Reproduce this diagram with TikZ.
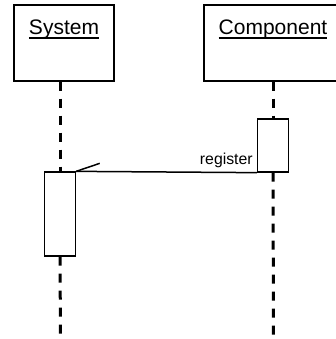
\documentclass[tikz,border=0pt]{standalone}
\usepackage{fontspec}
\setmainfont{Liberation Sans}
\begin{document}
\begin{tikzpicture}[x=1pt,y=-1pt,
  objbox/.style={draw,line width=1.3pt,minimum width=100pt,minimum height=76pt,inner sep=0pt},
  actbox/.style={draw,line width=1.3pt,fill=white,minimum width=31pt,inner sep=0pt},
  lifeline/.style={line width=3pt,dash pattern=on 9pt off 8pt},
  title/.style={font=\fontsize{21}{24}\selectfont,inner sep=0pt,anchor=base},
  msg/.style={line width=1.5pt}]
\useasboundingbox (0,0) rectangle (336,339);
\begin{scope}
\clip (0,0) rectangle (336,339);
% object boxes
\node[objbox] (sys) at (64,43) {};
\node[objbox,minimum width=138pt] (comp) at (273,43) {};
\node[title] (syst) at (64,35) {System};
\node[title] (compt) at (273,35) {Component};
\draw[line width=1.1pt] ([yshift=-3pt]syst.base west) -- ([yshift=-3pt]syst.base east);
\draw[line width=1.1pt] ([yshift=-3pt]compt.base west) -- ([yshift=-3pt]compt.base east);
% activations
\node[actbox,minimum height=84pt] (sa) at (60,214) {};
\node[actbox,minimum height=53pt] (ca) at (273,145.5) {};
% lifelines
\coordinate (sysend) at (60.5,339);
\coordinate (compend) at (273.5,339);
\draw[lifeline] (sys.south -| sa.north) -- (sa.north);
\draw[lifeline] (sa.south) -- (sysend);
\draw[lifeline] (comp.south -| ca.north) -- (ca.north);
\draw[lifeline] (ca.south) -- (compend);
% message
\draw[msg] (ca.south west) -- (sa.north east);
\draw[msg] (sa.north east) -- ++(23.6,-8);
\node[font=\fontsize{15.8}{18}\selectfont,anchor=base east,inner sep=0pt] (reg) at ([xshift=-4pt,yshift=8pt]ca.south west) {register};
\end{scope}
\end{tikzpicture}
\end{document}
